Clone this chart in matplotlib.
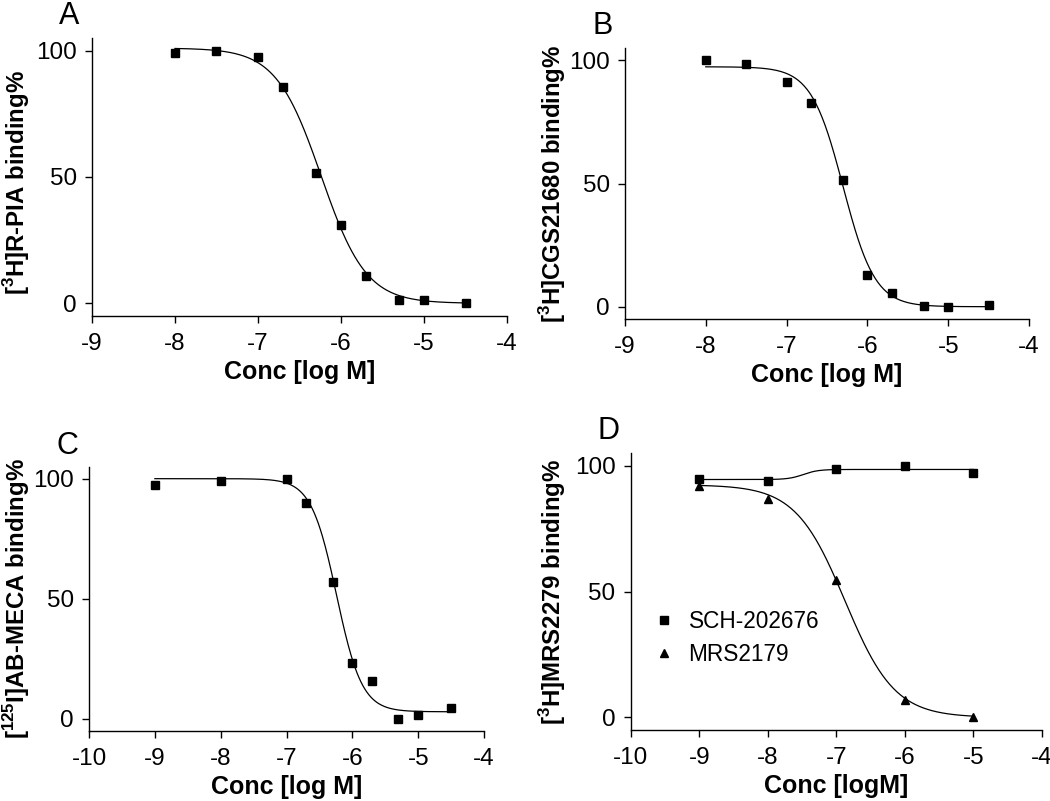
import numpy as np
import matplotlib
matplotlib.use("Agg")
import matplotlib.pyplot as plt

plt.rcParams['font.family'] = ['Liberation Sans', 'DejaVu Sans']
plt.rcParams['mathtext.fontset'] = 'custom'
plt.rcParams['mathtext.rm'] = 'Liberation Sans'
plt.rcParams['mathtext.bf'] = 'Liberation Sans:bold'

# ---- data ----
# Panel A: [3H]R-PIA
a_x = [-8, -7.5, -7, -6.7, -6.3, -6, -5.7, -5.3, -5, -4.5]
a_y = [99.1, 100, 97.5, 85.6, 51.7, 31.1, 10.7, 1.5, 1.2, 0.0]
a_fit = [101, 0, -6.24, 1.6]          # top, bottom, logIC50, hill

# Panel B: [3H]CGS21680
b_x = [-8, -7.5, -7, -6.7, -6.3, -6, -5.7, -5.3, -5, -4.5]
b_y = [100, 98.4, 91.1, 82.5, 51.5, 13.0, 5.6, 0.1, 0.0, 0.7]
b_fit = [97.4, 0, -6.30, 2.2]

# Panel C: [125I]AB-MECA
c_x = [-9, -8, -7, -6.7, -6.3, -6, -5.7, -5.3, -5, -4.5]
c_y = [97.5, 99.2, 100, 90.0, 57.0, 23.5, 15.8, 0.0, 1.5, 4.4]
c_fit = [100, 3, -6.24, 2.25]

# Panel D: [3H]MRS2279
d_x = [-9, -8, -7, -6, -5]
d_sch = [94.9, 94.1, 98.7, 100, 97.2]
d_mrs = [92.1, 86.7, 54.5, 7.1, 0.0]
d_sch_fit = [94.6, 98.6, -7.48, 4.0]
d_mrs_fit = [92.5, 0, -6.87, 1.2]


def logistic(x, p):
    top, bottom, logic50, hill = p
    return bottom + (top - bottom) / (1 + 10 ** (hill * (x - logic50)))


def style(ax, xlim, xticks, xlabel, ylabel, ypos, letter):
    for s in ['top', 'right']:
        ax.spines[s].set_visible(False)
    for s in ['left', 'bottom']:
        ax.spines[s].set_linewidth(1.0)
    ax.set_xlim(*xlim)
    ax.set_ylim(-5, 105)
    ax.set_xticks(xticks)
    ax.set_xticklabels([str(t) for t in xticks])
    ax.set_yticks([0, 50, 100])
    ax.tick_params(direction='out', length=5, width=1.0, labelsize=17.5)
    ax.tick_params(axis='x', pad=7)
    ax.tick_params(axis='y', pad=6)
    ax.set_xlabel(xlabel, fontsize=18, fontweight='bold', labelpad=4)
    ax.set_ylabel(ylabel, fontsize=17.3, fontweight='bold')
    ax.yaxis.set_label_coords(*ypos)
    ax.text(-0.055, 1.08, letter, transform=ax.transAxes, fontsize=22,
            ha='center', va='center')


fig = plt.figure(figsize=(10.5, 8.01), dpi=100)

ax_a = fig.add_axes([0.0876, 0.6055, 0.3953, 0.3471])
ax_b = fig.add_axes([0.5952, 0.6017, 0.3848, 0.3383])
ax_c = fig.add_axes([0.0848, 0.0874, 0.3762, 0.3300])
ax_d = fig.add_axes([0.6007, 0.0886, 0.3914, 0.3454])

mk = dict(color='black', linestyle='none', markersize=6)

# A
xx = np.linspace(a_x[0], a_x[-1], 300)
ax_a.plot(xx, logistic(xx, a_fit), color='black', lw=0.9)
ax_a.plot(a_x, a_y, marker='s', **mk)
style(ax_a, (-9, -4), [-9, -8, -7, -6, -5, -4], 'Conc [log M]',
      r'[$^{\mathbf{3}}$H]R-PIA binding%', (-0.145, 0.48), 'A')

# B
xx = np.linspace(b_x[0], b_x[-1], 300)
ax_b.plot(xx, logistic(xx, b_fit), color='black', lw=0.9)
ax_b.plot(b_x, b_y, marker='s', **mk)
style(ax_b, (-9, -4), [-9, -8, -7, -6, -5, -4], 'Conc [log M]',
      r'[$^{\mathbf{3}}$H]CGS21680 binding%', (-0.142, 0.5), 'B')

# C
xx = np.linspace(c_x[0], c_x[-1], 300)
ax_c.plot(xx, logistic(xx, c_fit), color='black', lw=0.9)
ax_c.plot(c_x, c_y, marker='s', **mk)
style(ax_c, (-10, -4), [-10, -9, -8, -7, -6, -5, -4], 'Conc [log M]',
      r'[$^{\mathbf{125}}$I]AB-MECA binding%', (-0.145, 0.5), 'C')

# D
xx = np.linspace(d_x[0], d_x[-1], 300)
ax_d.plot(xx, logistic(xx, d_sch_fit), color='black', lw=0.9)
ax_d.plot(xx, logistic(xx, d_mrs_fit), color='black', lw=0.9)
h1, = ax_d.plot(d_x, d_sch, marker='s', label='SCH-202676', **mk)
h2, = ax_d.plot(d_x, d_mrs, marker='^', label='MRS2179', color='black',
                linestyle='none', markersize=6)
style(ax_d, (-10, -4), [-10, -9, -8, -7, -6, -5, -4], 'Conc [logM]',
      r'[$^{\mathbf{3}}$H]MRS2279 binding%', (-0.153, 0.5), 'D')
ax_d.legend(handles=[h1, h2], loc='center left', bbox_to_anchor=(0.003, 0.333),
            frameon=False, fontsize=16.3, handlelength=1.0, handletextpad=0.6,
            labelspacing=0.45)

fig.savefig('out.png', dpi=100)
